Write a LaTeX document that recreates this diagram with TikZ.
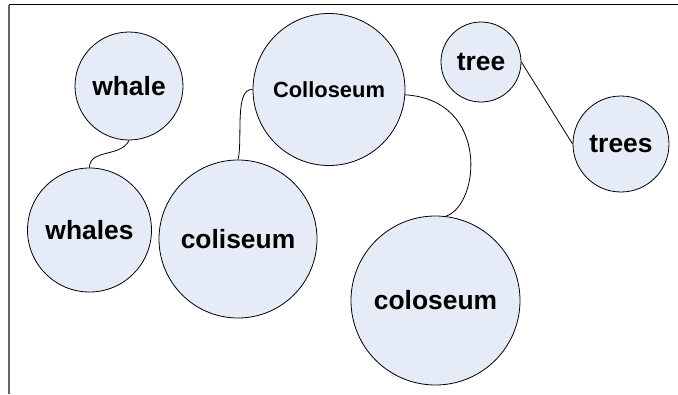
\documentclass[tikz,border=0pt]{standalone}
\usepackage{fontspec}
\setmainfont{Liberation Sans}
\usepackage{tikz}
\usetikzlibrary{shapes.geometric}
\usepackage[dvipsnames]{xcolor}
\definecolor{bubble}{RGB}{230,236,247}

\begin{document}
\begin{tikzpicture}[x=1pt, y=-1pt,
                    every node/.style = {draw, circle, fill=bubble, inner sep=0pt,
                                         line width=0.8pt,
                                         font=\fontsize{26.4}{30}\selectfont\bfseries},
                    small/.style = {font=\fontsize{21.9}{25}\selectfont\bfseries},
                    link/.style = {line width=0.8pt}]
                    \useasboundingbox (0,0) rectangle (678,394);
                    \draw[line width=1.6pt] (678,4.5) -- (9,4.5);
                    \draw[line width=1.6pt, black!60] (9,4.5) -- (9,394);
                    \node[minimum size=108pt] (W) at (129,86) {whale};
                    \node[minimum size=124pt] (WS) at (89.5,230) {whales};
                    \node[minimum size=152pt, small] (C) at (329,89.5) {Colloseum};
                    \node[minimum size=158pt] (CI) at (238,239) {coliseum};
                    \node[minimum size=169pt] (CO) at (435.5,300.5) {coloseum};
                    \node[minimum size=80pt] (T) at (481,62) {tree};
                    \node[minimum size=96pt] (TS) at (621,144) {trees};
                \draw[link] (W.south) to[out=-115, in=90] (WS.north);
                \draw[link] (C.west) .. controls (234,88) and (243,140) .. (CI.north);
                \draw[link] (C.-4) .. controls (490,100) and (480,205) .. (CO.83);
                \draw[link] (T.east) -- (TS.west);
                \end{tikzpicture}
\end{document}
